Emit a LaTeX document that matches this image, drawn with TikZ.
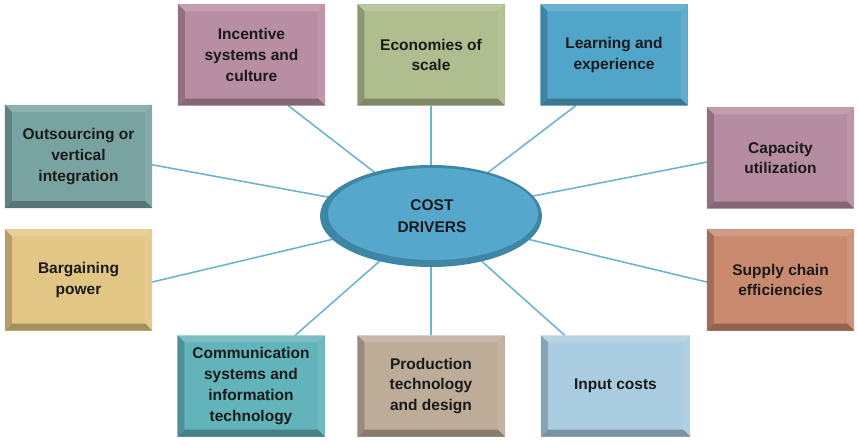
\documentclass[tikz,border=0pt]{standalone}
\usepackage{fontspec}
\setmainfont{Liberation Sans}
\usetikzlibrary{calc}
\definecolor{cinc}{HTML}{B88EA2}
\definecolor{ceco}{HTML}{AFBD8F}
\definecolor{clea}{HTML}{51A5C9}
\definecolor{cout}{HTML}{79A3A0}
\definecolor{ccap}{HTML}{B68CA0}
\definecolor{cbar}{HTML}{E2C686}
\definecolor{csup}{HTML}{C98A70}
\definecolor{ccom}{HTML}{62B3BA}
\definecolor{cpro}{HTML}{BCAC98}
\definecolor{cinp}{HTML}{AACCE0}
\definecolor{cell}{HTML}{55A8CC}
\definecolor{crim}{HTML}{3E86A6}
\definecolor{cline}{HTML}{6EB4D2}
\definecolor{ctext}{HTML}{1A1A1A}
\tikzset{
  box/.style={minimum width=147pt, minimum height=101pt, inner sep=0pt, align=center,
    text=ctext, font=\bfseries\fontsize{15.5}{20.7}\selectfont},
  conn/.style={draw=cline, line width=1.6pt},
}
\newcommand\bevbox[3]{% name, color, bevel
  \fill[#2!85!white] (#1.north west) -- (#1.north east) -- ([xshift=-#3,yshift=-#3]#1.north east) -- ([xshift=#3,yshift=-#3]#1.north west) -- cycle;
  \fill[#2!92!white] (#1.north east) -- (#1.south east) -- ([xshift=-#3,yshift=#3]#1.south east) -- ([xshift=-#3,yshift=-#3]#1.north east) -- cycle;
  \fill[#2!72!black] (#1.south west) -- (#1.south east) -- ([xshift=-#3,yshift=#3]#1.south east) -- ([xshift=#3,yshift=#3]#1.south west) -- cycle;
  \fill[#2!80!black] (#1.north west) -- (#1.south west) -- ([xshift=#3,yshift=#3]#1.south west) -- ([xshift=#3,yshift=-#3]#1.north west) -- cycle;
}
\begin{document}
\begin{tikzpicture}[x=1pt,y=1pt]
\useasboundingbox (0,0) rectangle (859,445);
% centre
\coordinate (ctr) at (431,229);
% boxes
\node[box, fill=cinc] (inc) at (251.5,390) {Incentive\\systems and\\culture};
\node[box, fill=ceco] (eco) at (431,390) {Economies of\\scale};
\node[box, fill=clea] (lea) at (614,390) {Learning and\\experience};
\node[box, fill=cout, minimum height=103pt] (out) at (78.5,288.5) {Outsourcing or\\vertical\\integration};
\node[box, fill=ccap] (cap) at (780.5,287) {Capacity\\utilization};
\node[box, fill=cbar] (bar) at (78.5,165) {Bargaining\\power};
\node[box, fill=csup] (sup) at (780.5,165) {Supply chain\\efficiencies};
\node[box, fill=ccom] (com) at (251,59) {Communication\\systems and\\information\\technology};
\node[box, fill=cpro] (pro) at (431,59) {Production\\technology\\and design};
\node[box, fill=cinp, minimum width=149pt] (inp) at (615.5,59) {Input costs};
% connectors (behind ellipse)
\draw[conn] ($(inc.south west)!0.75!(inc.south east)$) -- (ctr);
\draw[conn] (eco.south) -- (ctr);
\draw[conn] ($(lea.south west)!0.24!(lea.south east)$) -- (ctr);
\draw[conn] ($(out.north east)!0.58!(out.south east)$) -- (ctr);
\draw[conn] ($(cap.north west)!0.54!(cap.south west)$) -- (ctr);
\draw[conn] ($(bar.north east)!0.52!(bar.south east)$) -- (ctr);
\draw[conn] ($(sup.north west)!0.52!(sup.south west)$) -- (ctr);
\draw[conn] ($(com.north west)!0.8!(com.north east)$) -- (ctr);
\draw[conn] (pro.north) -- (ctr);
\draw[conn] ($(inp.north west)!0.16!(inp.north east)$) -- (ctr);
% bevels
\bevbox{inc}{cinc}{7pt}
\bevbox{eco}{ceco}{7pt}
\bevbox{lea}{clea}{7pt}
\bevbox{out}{cout}{7pt}
\bevbox{cap}{ccap}{7pt}
\bevbox{bar}{cbar}{7pt}
\bevbox{sup}{csup}{7pt}
\bevbox{com}{ccom}{7pt}
\bevbox{pro}{cpro}{7pt}
\bevbox{inp}{cinp}{7pt}
% ellipse
\fill[crim] (ctr) ellipse [x radius=111, y radius=51];
\fill[cell] ($(ctr)+(2,2)$) ellipse [x radius=105, y radius=46];
\node[text=ctext, font=\bfseries\fontsize{15.5}{22}\selectfont, align=center] (cd) at ($(ctr)+(1,0)$) {COST\\DRIVERS};
\end{tikzpicture}
\end{document}
